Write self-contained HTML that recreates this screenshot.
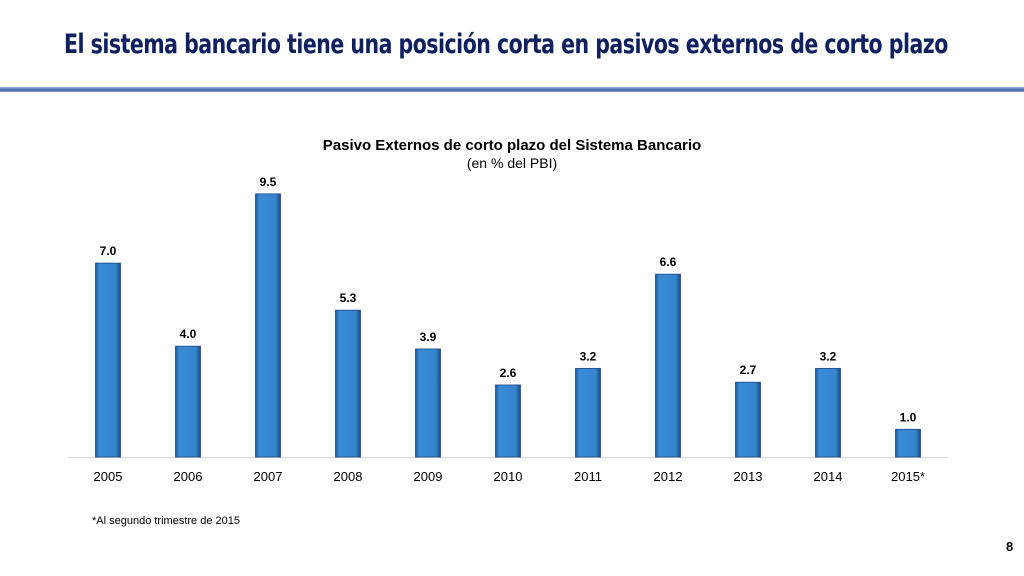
<!DOCTYPE html>
<html><head><meta charset="utf-8"><style>
body{margin:0;width:1024px;height:576px;background:#fff;overflow:hidden;font-family:"Liberation Sans",sans-serif;position:relative}
#title{position:absolute;left:64px;top:29px;font-size:27px;font-weight:bold;color:#0f2060;letter-spacing:-0.6px;white-space:nowrap;font-family:"DejaVu Sans Condensed","Liberation Sans",sans-serif;transform-origin:0 0}
#rule{position:absolute;left:0;top:87px;width:1024px;height:5px;background:linear-gradient(#9ab3da,#3f64a8 60%,#8a9bb8)}
#note{position:absolute;left:92px;top:515px;font-size:11px;color:#000}
#pg{position:absolute;left:1006px;top:539px;font-size:13px;font-weight:bold}
</style></head><body>
<div id="title">El sistema bancario tiene una posición corta en pasivos externos de corto plazo</div>
<div id="rule"></div>
<svg id="chart" width="1024" height="576" style="position:absolute;left:0;top:0">
<defs><linearGradient id="bg" x1="0" x2="1"><stop offset="0" stop-color="#1d5a9a"/><stop offset="0.15" stop-color="#3a8ad6"/><stop offset="0.8" stop-color="#3585d0"/><stop offset="1" stop-color="#1a4c85"/></linearGradient></defs>
<text x="512" y="150" text-anchor="middle" font-size="15" font-weight="bold">Pasivo Externos de corto plazo del Sistema Bancario</text>
<text x="512" y="168" text-anchor="middle" font-size="14">(en % del PBI)</text>
<line x1="68" x2="948" y1="457.5" y2="457.5" stroke="#d9d9d9"/>
<g id="bars"></g>
</svg>
<div id="note">*Al segundo trimestre de 2015</div>
<div id="pg">8</div>
<script>
const categories=["2005","2006","2007","2008","2009","2010","2011","2012","2013","2014","2015*"];
const values=[7.0,4.0,9.5,5.3,3.9,2.6,3.2,6.6,2.7,3.2,1.0];
const valueLabels=["7.0","4.0","9.5","5.3","3.9","2.6","3.2","6.6","2.7","3.2","1.0"];
const x=i=>108+i*80;
const y=v=>457-v*27.7;
const g=document.getElementById('bars');
const ns='http://www.w3.org/2000/svg';
categories.forEach((c,i)=>{
 const r=document.createElementNS(ns,'rect');
 r.setAttribute('x',x(i)-12.5);r.setAttribute('y',y(values[i]));
 r.setAttribute('width',25);r.setAttribute('height',457-y(values[i]));
 r.setAttribute('fill','url(#bg)');r.setAttribute('stroke','#1a4a80');r.setAttribute('stroke-width','0.8');
 
 
 g.appendChild(r);
 const t=document.createElementNS(ns,'text');
 t.setAttribute('x',x(i));t.setAttribute('y',y(values[i])-8);
 t.setAttribute('text-anchor','middle');t.setAttribute('font-size','12');t.setAttribute('font-weight','bold');
 t.textContent=valueLabels[i];
 
 
 g.appendChild(t);
 const l=document.createElementNS(ns,'text');
 l.setAttribute('x',x(i));l.setAttribute('y',481);
 l.setAttribute('text-anchor','middle');l.setAttribute('font-size','13');
 l.textContent=c;
 
 
 g.appendChild(l);
});
const tt=document.getElementById('title');
const w=tt.scrollWidth;
tt.style.transform='scaleX('+(884/w)+')';
</script>
</body></html>
